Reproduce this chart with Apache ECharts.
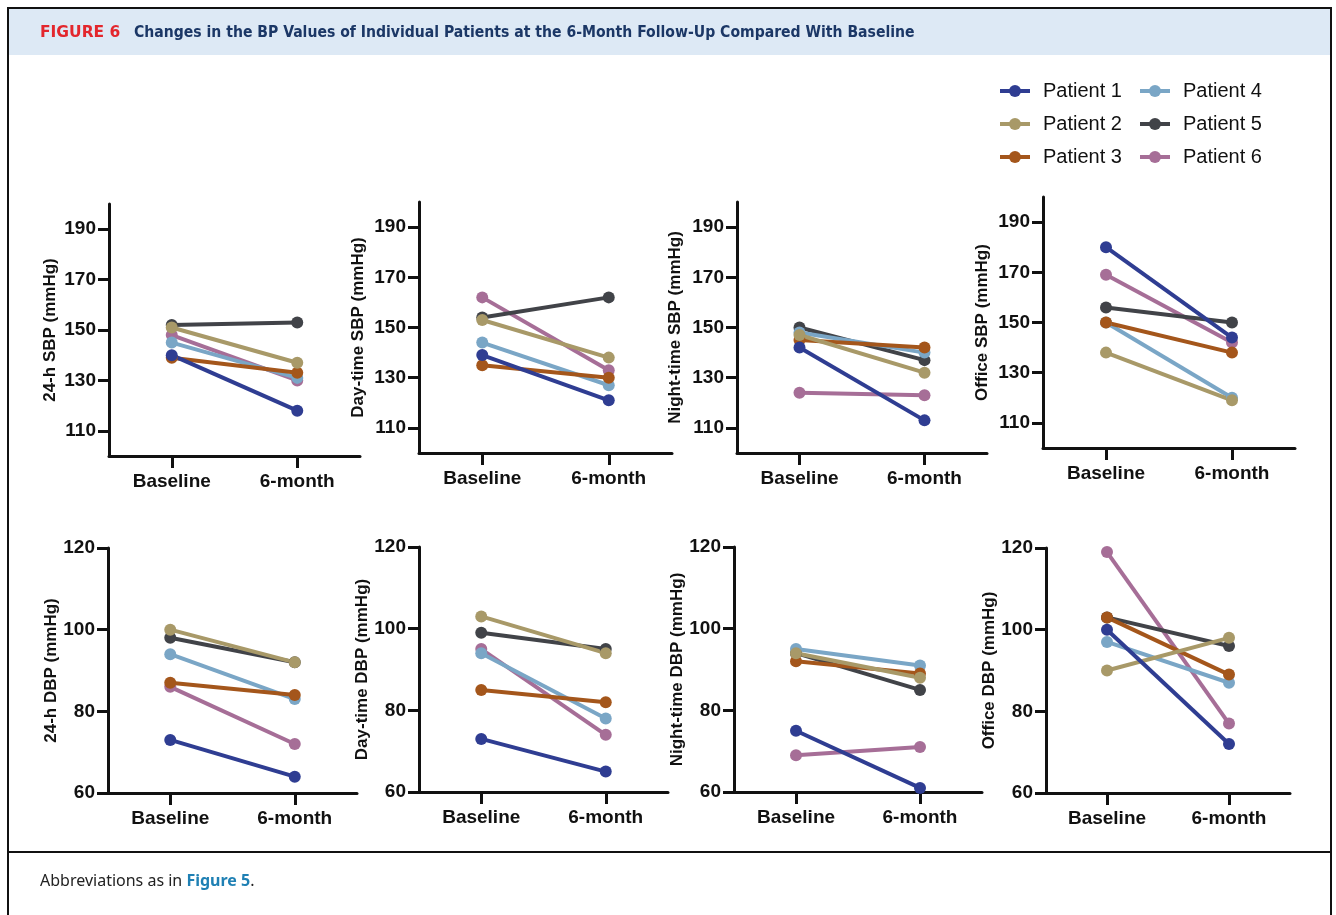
<!DOCTYPE html>
<html><head><meta charset="utf-8">
<script src="https://cdn.jsdelivr.net/npm/echarts@6/dist/echarts.min.js"></script>
<style>html,body{margin:0;padding:0;background:#fff}#c{width:1336px;height:915px}</style>
</head><body><div id="c"></div>
<script>
// ---------- data ----------
const categories = ['Baseline', '6-month'];
const patientNames = ['Patient 1', 'Patient 2', 'Patient 3', 'Patient 4', 'Patient 5', 'Patient 6'];
const sbpTicks = [110, 130, 150, 170, 190];
const dbpTicks = [60, 80, 100, 120];

// each row: [Baseline, 6-month] for Patient 1..6
const sbp24h     = [[140, 118], [151, 137], [139, 133], [145, 131], [152, 153], [148, 130]];
const sbpDay     = [[139, 121], [153, 138], [135, 130], [144, 127], [154, 162], [162, 133]];
const sbpNight   = [[142, 113], [147, 132], [145, 142], [148, 140], [150, 137], [124, 123]];
const sbpOffice  = [[180, 144], [138, 119], [150, 138], [150, 120], [156, 150], [169, 142]];
const dbp24h     = [[73, 64], [100, 92], [87, 84], [94, 83], [98, 92], [86, 72]];
const dbpDay     = [[73, 65], [103, 94], [85, 82], [94, 78], [99, 95], [95, 74]];
const dbpNight   = [[75, 61], [94, 88], [92, 89], [95, 91], [94, 85], [69, 71]];
const dbpOffice  = [[100, 72], [90, 98], [103, 89], [97, 87], [103, 96], [119, 77]];

// ---------- styling / layout ----------
const colors = ['#2f3d92', '#a89968', '#a4561b', '#7aa6c6', '#414348', '#a66e97'];
const panels = [
  { name: '24-h SBP (mmHg)',        data: sbp24h,    kind: 'sbp' },
  { name: 'Day-time SBP (mmHg)',    data: sbpDay,    kind: 'sbp' },
  { name: 'Night-time SBP (mmHg)',  data: sbpNight,  kind: 'sbp' },
  { name: 'Office SBP (mmHg)',      data: sbpOffice, kind: 'sbp' },
  { name: '24-h DBP (mmHg)',        data: dbp24h,    kind: 'dbp' },
  { name: 'Day-time DBP (mmHg)',    data: dbpDay,    kind: 'dbp' },
  { name: 'Night-time DBP (mmHg)',  data: dbpNight,  kind: 'dbp' },
  { name: 'Office DBP (mmHg)',      data: dbpOffice, kind: 'dbp' }
];
const layout = [
  { left: 109,  top: 204, width: 251, height: 252, gap: 50 },
  { left: 419,  top: 202, width: 253, height: 251, gap: 52 },
  { left: 737,  top: 202, width: 250, height: 251, gap: 53 },
  { left: 1043, top: 197, width: 252, height: 251, gap: 52 },
  { left: 108,  top: 548, width: 249, height: 245, gap: 46 },
  { left: 419,  top: 547, width: 249, height: 245, gap: 47 },
  { left: 734,  top: 547, width: 248, height: 245, gap: 47 },
  { left: 1046, top: 548, width: 244, height: 245, gap: 46 }
];
const FONT = "'Liberation Sans', Arial, sans-serif";
const TITLE_FONT = "'DejaVu Sans Condensed', 'DejaVu Sans', sans-serif";
const axisLineStyle = { color: '#111', width: 3 };

const grids = [], xAxes = [], yAxes = [], series = [];
panels.forEach((p, i) => {
  const L = layout[i];
  grids.push({ left: L.left, top: L.top, width: L.width, height: L.height, containLabel: false });
  xAxes.push({
    type: 'category', gridIndex: i, data: categories, boundaryGap: true,
    axisLine: { show: true, onZero: false, lineStyle: axisLineStyle },
    axisTick: { show: true, alignWithLabel: true, length: 12, lineStyle: axisLineStyle },
    axisLabel: { margin: 16, fontFamily: FONT, fontWeight: 'bold', fontSize: 19, color: '#111' },
    splitLine: { show: false }
  });
  const ticks = p.kind === 'sbp' ? sbpTicks : dbpTicks;
  yAxes.push({
    type: 'value', gridIndex: i,
    min: p.kind === 'sbp' ? 100 : 60,
    max: p.kind === 'sbp' ? 200 : 120,
    interval: 20,
    name: p.name, nameLocation: 'middle', nameGap: L.gap,
    nameTextStyle: { fontFamily: FONT, fontWeight: 'bold', fontSize: 17, color: '#111' },
    axisLine: { show: true, lineStyle: axisLineStyle },
    axisTick: { show: true, length: 11, lineStyle: axisLineStyle, customValues: ticks },
    axisLabel: { margin: 13, fontFamily: FONT, fontWeight: 'bold', fontSize: 19, color: '#111', customValues: ticks },
    splitLine: { show: false }
  });
  // draw Patient 6 first so Patient 1 ends up on top
  for (let k = patientNames.length - 1; k >= 0; k--) {
    series.push({
      type: 'line', name: patientNames[k], xAxisIndex: i, yAxisIndex: i,
      data: p.data[k], symbol: 'circle', symbolSize: 12, showSymbol: true,
      lineStyle: { color: colors[k], width: 4 },
      itemStyle: { color: colors[k] },
      animation: false, silent: true
    });
  }
});

const legendCommon = {
  orient: 'vertical', itemWidth: 30, itemHeight: 15, itemGap: 13,
  lineStyle: { width: 4 },
  textStyle: { fontFamily: FONT, fontSize: 20, color: '#111', padding: [0, 0, 0, 8] },
  selectedMode: false
};

const option = {
  backgroundColor: '#fff',
  animation: false,
  color: colors,
  grid: grids, xAxis: xAxes, yAxis: yAxes, series: series,
  legend: [
    Object.assign({ left: 993, top: 76, data: patientNames.slice(0, 3) }, legendCommon),
    Object.assign({ left: 1133, top: 76, data: patientNames.slice(3, 6) }, legendCommon)
  ],
  graphic: [
    { type: 'rect', z: -10, shape: { x: 9, y: 9, width: 1321, height: 46 }, style: { fill: '#dde9f5' } },
    { type: 'line', shape: { x1: 8, y1: 8, x2: 1331, y2: 8 }, style: { stroke: '#111', lineWidth: 2 } },
    { type: 'line', shape: { x1: 8, y1: 7, x2: 8, y2: 915 }, style: { stroke: '#111', lineWidth: 2 } },
    { type: 'line', shape: { x1: 1331, y1: 7, x2: 1331, y2: 915 }, style: { stroke: '#111', lineWidth: 2 } },
    { type: 'line', shape: { x1: 8, y1: 852, x2: 1331, y2: 852 }, style: { stroke: '#111', lineWidth: 2 } },
    { type: 'text', left: 40, top: 25, style: {
        text: 'FIGURE 6', fontFamily: "'DejaVu Sans', sans-serif", fontWeight: 'bold', fontSize: 15.5,
        fill: '#e3262c' } },
    { type: 'text', left: 134, top: 25, style: {
        text: 'Changes in the BP Values of Individual Patients at the 6-Month Follow-Up Compared With Baseline',
        fontFamily: TITLE_FONT, fontWeight: 'bold', fontSize: 15.6, fill: '#1b3766' } },
    { type: 'text', left: 40, top: 873, style: {
        text: '{a|Abbreviations as in }{b|Figure 5}{a|.}',
        rich: {
          a: { fontFamily: "'Noto Sans', sans-serif", fontSize: 16, fill: '#222' },
          b: { fontFamily: "'Noto Sans', sans-serif", fontWeight: 'bold', fontSize: 16, fill: '#1f80b4' }
        } } }
  ]
};

const chart = echarts.init(document.getElementById('c'), null, { renderer: 'canvas', width: 1336, height: 915 });
chart.setOption(option);
</script>
</body></html>
